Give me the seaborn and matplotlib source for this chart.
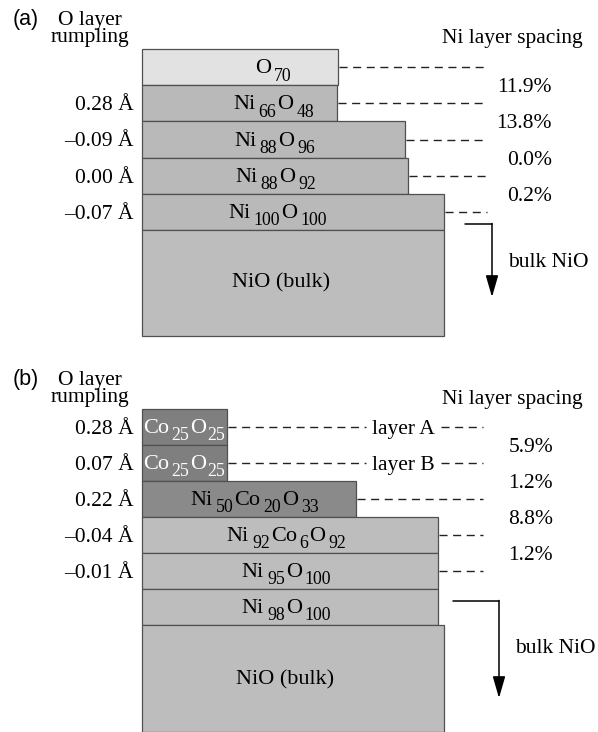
import re
import matplotlib
matplotlib.use("Agg")
import matplotlib.pyplot as plt
import seaborn as sns
import pandas as pd

# ---------------- data ----------------
# panel (a)
a_layers = ["O70", "Ni66O48", "Ni88O96", "Ni88O92", "Ni100O100"]
a_extent = [196, 195, 263, 266, 302]          # lateral extent of each layer
a_bulk_extent = 302
a_rumpling = [None, 0.28, -0.09, 0.00, -0.07]  # Å
a_spacing = [11.9, 13.8, 0.0, 0.2]             # %

# panel (b)
b_layers = ["Co25O25", "Co25O25", "Ni50Co20O33", "Ni92Co6O92", "Ni95O100", "Ni98O100"]
b_extent = [85, 85, 214, 296, 296, 296]
b_bulk_extent = 302
b_rumpling = [0.28, 0.07, 0.22, -0.04, -0.01, None]
b_spacing = [5.9, 1.2, 8.8, 1.2]
b_tags = ["layer A", "layer B", None, None, None, None]

# ---------------- style ----------------
sns.set_theme(style="white")
plt.rcParams["font.family"] = ["Liberation Serif", "DejaVu Serif"]
plt.rcParams["text.color"] = "black"

FS = 15.5
FFS = 16.0
EDGE = "#505050"
LIGHT = "#e2e2e2"
MID = "#b9b9b9"
BULK = "#bdbdbd"
DARK = "#7f7f7f"
DARK2 = "#8a8a8a"

fig = plt.figure(figsize=(5.98, 7.32), dpi=100)
ax = fig.add_axes([0, 0, 1, 1])
ax.set_xlim(0, 598)
ax.set_ylim(732, 0)
ax.axis("off")
renderer = fig.canvas.get_renderer()

LEFT = 142
DASH = (0, (5.8, 4.0))


def fmt_r(v):
    s = f"{abs(v):.2f} Å"
    return ("\u2013" + s) if v < 0 else s


def draw_formula(x, yb, formula, ha="center", color="black", gap=3.0, gap2=1.0):
    parts = re.findall(r"([A-Z][a-z]?)(\d*)", formula)
    objs = []
    cur = 0.0
    for el, num in parts:
        t = ax.text(cur, yb, el, fontsize=FFS, ha="left", va="baseline", color=color)
        w = t.get_window_extent(renderer).width
        objs.append((t, cur))
        cur += w + gap
        if num:
            s = ax.text(cur, yb + 7.5, num, fontsize=FFS * 0.8, ha="left",
                        va="baseline", color=color)
            w = s.get_window_extent(renderer).width
            objs.append((s, cur))
            cur += w + gap2
    start = x - cur / 2 if ha == "center" else x
    for t, c in objs:
        t.set_x(start + c)


def panel(tag, top, h, layers, extent, colors, txtcolors, txt_x, bulk_ext, bulk_h,
          rump, spacing, dash_end, pct_right, arrow_x0, arrow_x1, arrow_len,
          bulk_txt_y, bulknio_y, header_y, tags=None, left_text=None):
    n = len(layers)
    df = pd.DataFrame({"layer": layers, "extent": extent,
                       "top": [top + i * h for i in range(n)]})
    tops = list(df["top"])
    ax.barh(df["top"], df["extent"], left=LEFT, height=h, align="edge",
            color=colors, edgecolor=EDGE, linewidth=0.9)
    btop = top + n * h
    ax.barh([btop], [bulk_ext], left=LEFT, height=bulk_h, align="edge",
            color=BULK, edgecolor=EDGE, linewidth=0.9)
    ax.text(txt_x[-1], bulk_txt_y, "NiO (bulk)", ha="center", va="center", fontsize=FFS)
    for i, (lab, t, e) in enumerate(zip(layers, tops, extent)):
        c = t + h / 2
        if left_text is not None and left_text[i]:
            draw_formula(LEFT + 1.5, c + 6, lab, ha="left", color=txtcolors[i],
                         gap=1.8, gap2=0.5)
        else:
            draw_formula(txt_x[i], c + 6, lab, ha="center", color=txtcolors[i])
        if rump[i] is not None:
            ax.text(134, c + 7, fmt_r(rump[i]), ha="right", va="baseline", fontsize=FS)
    # dashed lines
    for i in range(len(spacing) + 1):
        c = tops[i] + h / 2
        x0 = LEFT + extent[i]
        if tags is not None and tags[i]:
            ax.plot([x0 + 1, 366], [c, c], color="#222222", lw=1.0, linestyle=DASH)
            ax.text(403, c + 7, tags[i], ha="center", va="baseline", fontsize=FS)
            ax.plot([441, dash_end], [c, c], color="#222222", lw=1.0, linestyle=DASH)
        else:
            ax.plot([x0 + 1, dash_end], [c, c], color="#222222", lw=1.0, linestyle=DASH)
    for i, s in enumerate(spacing):
        yb = tops[i + 1]
        ax.text(pct_right, yb + 7, f"{s:.1f}%", ha="right", va="baseline", fontsize=FS)
    # headers
    ax.text(13, header_y, tag, ha="left", va="center", fontsize=FS,
            family=["Liberation Sans", "DejaVu Sans"])
    ax.text(90, header_y + 9, "O layer\nrumpling", ha="center", va="center",
            fontsize=FS, linespacing=0.82)
    ax.text(583, top - 6 if tags is None else top - 5, "Ni layer spacing",
            ha="right", va="baseline", fontsize=FS)
    # bulk arrow
    ya = btop - 6 if tags is None else btop - 24
    ax.plot([arrow_x0, arrow_x1], [ya, ya], color="black", lw=1.1)
    ax.annotate("", xy=(arrow_x1, ya + arrow_len), xytext=(arrow_x1, ya - 0.5),
                arrowprops=dict(arrowstyle="-|>,head_length=1.1,head_width=0.32",
                                color="black", lw=1.1, shrinkA=0, shrinkB=0))
    ax.text(arrow_x1 + 16, bulknio_y, "bulk NiO", ha="left", va="baseline", fontsize=FS)


panel("(a)", 49, 36.2, a_layers, a_extent,
      [LIGHT, MID, MID, MID, MID], ["black"] * 5, [274, 274, 275, 276, 278, 281],
      a_bulk_extent, 106, a_rumpling, a_spacing, 487, 552, 465, 492, 73,
      283, 267, 20)

panel("(b)", 409, 36.0, b_layers, b_extent,
      [DARK, DARK, DARK2, BULK, BULK, BULK],
      ["white", "white", "black", "black", "black", "black"],
      [0, 0, 255, 287, 287, 287, 285],
      b_bulk_extent, 107, b_rumpling, b_spacing, 483, 553, 453, 499, 97,
      680, 653, 380, tags=b_tags, left_text=[True, True, False, False, False, False])

fig.savefig("out.png", dpi=100)
